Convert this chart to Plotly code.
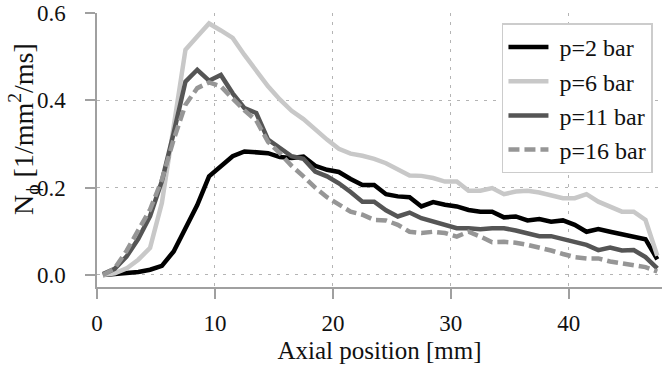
import plotly.graph_objects as go

# Axial positions [mm]
x_mm = [0.5, 1.5, 2.5, 3.5, 4.5, 5.5, 6.5, 7.5, 8.5, 9.5,
        10.5, 11.5, 12.5, 13.5, 14.5, 15.5, 16.5, 17.5, 18.5, 19.5,
        20.5, 21.5, 22.5, 23.5, 24.5, 25.5, 26.5, 27.5, 28.5, 29.5,
        30.5, 31.5, 32.5, 33.5, 34.5, 35.5, 36.5, 37.5, 38.5, 39.5,
        40.5, 41.5, 42.5, 43.5, 44.5, 45.5, 46.5, 47.5]

p2 = [0.0, 0.002, 0.004, 0.007, 0.012, 0.021, 0.054, 0.105, 0.16, 0.226,
      0.25, 0.272, 0.283, 0.281, 0.279, 0.27, 0.268, 0.271, 0.25, 0.241,
      0.236, 0.22, 0.206, 0.206, 0.185, 0.18, 0.178, 0.157, 0.167, 0.161,
      0.157, 0.149, 0.145, 0.145, 0.132, 0.134, 0.125, 0.128, 0.122, 0.125,
      0.115, 0.099, 0.105, 0.099, 0.094, 0.089, 0.082, 0.036]

p6 = [0.0, 0.004, 0.015, 0.035, 0.062, 0.165, 0.34, 0.516, 0.546, 0.576,
      0.56, 0.543, 0.504, 0.466, 0.432, 0.402, 0.376, 0.357, 0.333, 0.31,
      0.289, 0.278, 0.273, 0.266, 0.256, 0.242, 0.228, 0.227, 0.222, 0.214,
      0.214, 0.193, 0.193, 0.199, 0.185, 0.191, 0.193, 0.189, 0.183, 0.176,
      0.176, 0.185, 0.168, 0.157, 0.145, 0.145, 0.126, 0.044]

p11 = [0.002, 0.014, 0.042, 0.083, 0.135, 0.215, 0.325, 0.443, 0.47, 0.445,
       0.458, 0.416, 0.382, 0.371, 0.31, 0.29, 0.272, 0.266, 0.237, 0.226,
       0.21, 0.19, 0.168, 0.168, 0.148, 0.134, 0.143, 0.13, 0.122, 0.115,
       0.107, 0.107, 0.105, 0.107, 0.107, 0.102, 0.096, 0.089, 0.089, 0.082,
       0.076, 0.069, 0.057, 0.063, 0.056, 0.057, 0.041, 0.015]

p16 = [0.0, 0.015, 0.055, 0.1, 0.15, 0.218, 0.31, 0.39, 0.428, 0.441,
       0.432, 0.404, 0.377, 0.354, 0.305, 0.279, 0.25, 0.226, 0.2, 0.178,
       0.16, 0.145, 0.138, 0.126, 0.125, 0.115, 0.099, 0.096, 0.099, 0.096,
       0.088, 0.099, 0.088, 0.075, 0.076, 0.074, 0.069, 0.063, 0.056, 0.048,
       0.041, 0.038, 0.038, 0.031, 0.027, 0.023, 0.018, 0.008]

series_names = ["p=2 bar", "p=6 bar", "p=11 bar", "p=16 bar"]
x_ticks = [0, 10, 20, 30, 40]
y_ticks = [0.0, 0.2, 0.4, 0.6]
y_tick_labels = ["0.0", "0.2", "0.4", "0.6"]

FONT = "Liberation Serif"
TXT = "#111111"
fig = go.Figure()
styles = [
    dict(color="#000000", width=4.5, dash="solid"),
    dict(color="#c8c8c8", width=4.5, dash="solid"),
    dict(color="#555555", width=4.5, dash="solid"),
    dict(color="#969696", width=4.5, dash="11px,5px"),
]
for name, ys, st in zip(series_names, [p2, p6, p11, p16], styles):
    fig.add_trace(go.Scatter(x=x_mm, y=ys, mode="lines", name="\u00a0" + name,
                             line=dict(color=st["color"], width=st["width"], dash=st["dash"])))

axis_common = dict(
    showline=True, linecolor="#a0a0a0", linewidth=1.5,
    ticks="outside", ticklen=10, tickwidth=1.5, tickcolor="#a0a0a0",
    showgrid=True, gridcolor="#b4b4b4", gridwidth=1, griddash="3px,6px",
    zeroline=False,
)

fig.update_layout(
    width=662, height=365,
    margin=dict(l=97, r=0, t=13, b=78),
    plot_bgcolor="white", paper_bgcolor="white",
    font=dict(family=FONT, size=23, color=TXT),
    xaxis=dict(range=[0, 47.9], tickvals=x_ticks,
               tickfont=dict(family=FONT, size=23, color=TXT),
               title=dict(text="Axial position [mm]", font=dict(family=FONT, size=25, color=TXT), standoff=6),
               ticklabelstandoff=5, **axis_common),
    yaxis=dict(range=[-0.0275, 0.6], tickvals=y_ticks, ticktext=y_tick_labels,
               tickfont=dict(family=FONT, size=23, color=TXT),
               ticklabelstandoff=15, **axis_common),
    legend=dict(x=0.984, y=0.962, xanchor="right", yanchor="top",
                bgcolor="white", bordercolor="#cccccc", borderwidth=1.5,
                font=dict(family=FONT, size=24, color=TXT), itemwidth=40,
                tracegroupgap=0),
    showlegend=True,
)

fig.add_annotation(
    text="N<sub>ϕ</sub> [1/mm<sup>2</sup>/ms]",
    xref="paper", yref="paper", x=-0.13, y=0.575,
    xanchor="center", yanchor="middle", textangle=-90, showarrow=False,
    font=dict(family=FONT, size=28, color=TXT),
)

fig.write_html("out.html")
